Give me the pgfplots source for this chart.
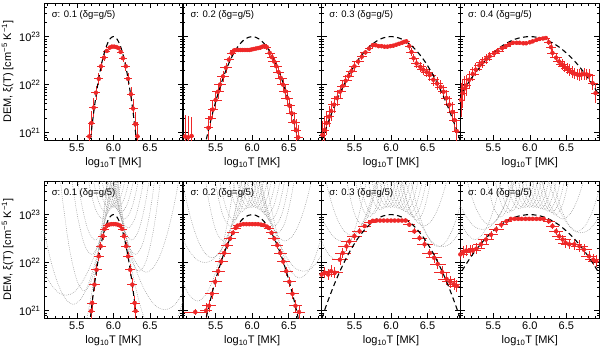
\documentclass[border=0pt]{standalone}
\usepackage{fontspec}
\setmainfont{Liberation Sans}
\usepackage{pgfplots}
\usepackage{pgfplotstable}
\pgfplotsset{compat=1.18}
\definecolor{demred}{RGB}{238,40,40}
\definecolor{locigray}{RGB}{145,145,145}

% ---------- data: log10 T, log10 DEM, x error, y error ----------
\pgfplotstableread{
x y ex ey
5.67 20.92 0.04 0.30
5.70 21.20 0.05 0.25
5.73 21.52 0.06 0.20
5.76 21.83 0.06 0.15
5.80 22.12 0.06 0.12
5.83 22.38 0.06 0.10
5.87 22.56 0.05 0.07
5.91 22.70 0.05 0.05
5.95 22.77 0.05 0.04
5.98 22.79 0.04 0.03
6.01 22.79 0.04 0.03
6.04 22.78 0.04 0.03
6.07 22.76 0.05 0.04
6.10 22.68 0.05 0.05
6.13 22.55 0.05 0.07
6.17 22.38 0.06 0.10
6.20 22.12 0.06 0.12
6.24 21.80 0.06 0.15
6.27 21.50 0.06 0.20
6.30 21.18 0.05 0.25
6.33 20.92 0.04 0.30
}\topA
\pgfplotstableread{
x y ex ey
5.08 20.92 0.04 0.45
5.12 20.90 0.05 0.45
5.17 20.93 0.04 0.40
5.40 21.10 0.06 0.25
5.43 21.30 0.07 0.22
5.46 21.48 0.07 0.20
5.50 21.68 0.08 0.18
5.53 21.85 0.08 0.15
5.56 22.00 0.08 0.13
5.60 22.17 0.08 0.12
5.64 22.35 0.08 0.10
5.68 22.52 0.07 0.08
5.72 22.66 0.06 0.06
5.75 22.71 0.05 0.05
5.78 22.72 0.05 0.04
5.81 22.72 0.05 0.04
5.84 22.72 0.05 0.04
5.87 22.72 0.05 0.04
5.90 22.72 0.05 0.04
5.93 22.72 0.05 0.04
5.96 22.72 0.05 0.04
5.99 22.73 0.05 0.04
6.02 22.74 0.05 0.04
6.05 22.75 0.05 0.04
6.08 22.76 0.05 0.04
6.11 22.77 0.05 0.04
6.14 22.79 0.05 0.04
6.17 22.80 0.05 0.05
6.20 22.78 0.06 0.06
6.24 22.66 0.07 0.08
6.27 22.57 0.07 0.09
6.30 22.48 0.08 0.10
6.33 22.38 0.08 0.11
6.36 22.26 0.08 0.12
6.39 22.14 0.08 0.13
6.42 22.00 0.08 0.14
6.45 21.86 0.08 0.15
6.48 21.72 0.08 0.16
6.51 21.56 0.08 0.17
6.54 21.40 0.08 0.19
6.57 21.22 0.08 0.21
6.60 21.05 0.07 0.23
6.63 20.90 0.06 0.25
}\topB
\pgfplotstableread{
x y ex ey
5.06 20.95 0.05 0.30
5.09 21.05 0.06 0.28
5.12 21.20 0.06 0.25
5.15 21.33 0.07 0.22
5.18 21.45 0.07 0.20
5.22 21.58 0.08 0.18
5.26 21.72 0.08 0.16
5.30 21.85 0.08 0.15
5.34 21.97 0.08 0.13
5.38 22.08 0.08 0.12
5.42 22.18 0.08 0.11
5.46 22.28 0.08 0.10
5.50 22.38 0.08 0.09
5.55 22.48 0.08 0.08
5.60 22.58 0.07 0.07
5.65 22.67 0.07 0.06
5.70 22.75 0.06 0.06
5.75 22.82 0.05 0.05
5.79 22.82 0.05 0.04
5.83 22.80 0.05 0.04
5.87 22.80 0.05 0.04
5.91 22.79 0.05 0.04
5.95 22.79 0.05 0.04
5.99 22.80 0.05 0.04
6.03 22.81 0.05 0.04
6.07 22.83 0.05 0.04
6.11 22.85 0.05 0.04
6.15 22.87 0.05 0.04
6.18 22.89 0.05 0.04
6.21 22.90 0.05 0.05
6.25 22.80 0.06 0.07
6.28 22.68 0.07 0.08
6.31 22.55 0.07 0.09
6.35 22.44 0.08 0.10
6.40 22.37 0.08 0.10
6.44 22.31 0.08 0.11
6.49 22.26 0.08 0.11
6.53 22.20 0.08 0.12
6.58 22.10 0.08 0.12
6.63 22.02 0.08 0.13
6.68 21.95 0.08 0.14
6.72 21.85 0.08 0.15
6.76 21.72 0.08 0.16
6.80 21.58 0.08 0.18
6.84 21.43 0.08 0.20
6.87 21.26 0.07 0.22
6.90 21.03 0.06 0.25
}\topC
\pgfplotstableread{
x y ex ey
5.06 21.68 0.05 0.35
5.08 21.82 0.06 0.30
5.11 21.92 0.07 0.25
5.13 21.98 0.07 0.22
5.17 22.10 0.08 0.18
5.22 22.22 0.08 0.15
5.26 22.31 0.08 0.13
5.31 22.40 0.08 0.12
5.35 22.46 0.08 0.11
5.40 22.53 0.08 0.10
5.45 22.59 0.08 0.09
5.51 22.65 0.08 0.08
5.56 22.70 0.08 0.07
5.62 22.76 0.07 0.06
5.67 22.80 0.07 0.05
5.72 22.84 0.06 0.05
5.77 22.87 0.06 0.04
5.82 22.87 0.06 0.04
5.86 22.87 0.06 0.04
5.91 22.86 0.06 0.04
5.95 22.86 0.06 0.04
6.00 22.88 0.06 0.04
6.04 22.90 0.06 0.04
6.09 22.93 0.06 0.04
6.13 22.95 0.06 0.04
6.18 22.96 0.06 0.04
6.22 22.97 0.06 0.05
6.26 22.88 0.06 0.06
6.29 22.78 0.07 0.08
6.31 22.66 0.07 0.09
6.36 22.56 0.08 0.10
6.40 22.48 0.08 0.10
6.44 22.42 0.08 0.11
6.47 22.37 0.08 0.11
6.51 22.33 0.08 0.11
6.54 22.30 0.08 0.12
6.58 22.26 0.08 0.12
6.61 22.23 0.08 0.12
6.65 22.21 0.08 0.12
6.68 22.20 0.08 0.12
6.71 22.21 0.08 0.12
6.74 22.22 0.08 0.12
6.78 22.21 0.08 0.12
6.81 22.19 0.08 0.13
6.86 22.03 0.07 0.15
6.90 21.82 0.06 0.20
}\topD
\pgfplotstableread{
x y ex ey
5.696 20.99 0.05 0.20
5.709 21.16 0.07 0.15
5.741 21.54 0.07 0.14
5.770 21.85 0.07 0.12
5.800 22.13 0.07 0.10
5.826 22.34 0.07 0.08
5.856 22.55 0.06 0.07
5.880 22.70 0.06 0.05
5.910 22.77 0.05 0.04
5.940 22.79 0.05 0.04
5.970 22.80 0.05 0.04
6.000 22.80 0.05 0.04
6.030 22.80 0.05 0.04
6.060 22.79 0.05 0.04
6.090 22.77 0.05 0.04
6.120 22.70 0.06 0.05
6.144 22.55 0.06 0.07
6.174 22.34 0.07 0.08
6.200 22.13 0.07 0.10
6.230 21.85 0.07 0.12
6.259 21.54 0.07 0.14
6.291 21.16 0.07 0.15
6.304 20.99 0.05 0.20
}\botA
\pgfplotstableread{
x y ex ey
5.22 20.97 0.16 0.06
5.37 21.00 0.08 0.15
5.408 21.10 0.09 0.12
5.449 21.35 0.09 0.11
5.492 21.60 0.09 0.10
5.534 21.82 0.09 0.09
5.575 22.02 0.09 0.08
5.616 22.20 0.09 0.08
5.657 22.36 0.08 0.07
5.697 22.50 0.08 0.06
5.735 22.62 0.08 0.05
5.773 22.72 0.07 0.05
5.80 22.77 0.06 0.04
5.84 22.79 0.06 0.04
5.88 22.80 0.06 0.04
5.92 22.80 0.06 0.04
5.96 22.80 0.06 0.04
6.00 22.80 0.06 0.04
6.04 22.80 0.06 0.04
6.08 22.80 0.06 0.04
6.12 22.79 0.06 0.04
6.16 22.78 0.06 0.04
6.20 22.75 0.06 0.04
6.227 22.72 0.07 0.05
6.265 22.62 0.08 0.05
6.303 22.50 0.08 0.06
6.343 22.36 0.08 0.07
6.384 22.20 0.09 0.08
6.425 22.02 0.09 0.08
6.466 21.82 0.09 0.09
6.508 21.60 0.09 0.10
6.551 21.35 0.09 0.11
6.592 21.10 0.09 0.12
6.64 20.97 0.08 0.15
}\botB
\pgfplotstableread{
x y ex ey
5.05 21.75 0.11 0.12
5.09 21.79 0.11 0.12
5.14 21.75 0.11 0.12
5.18 21.82 0.11 0.12
5.23 21.79 0.11 0.12
5.30 22.06 0.11 0.11
5.34 22.20 0.11 0.10
5.39 22.34 0.11 0.09
5.43 22.44 0.11 0.08
5.50 22.55 0.10 0.07
5.57 22.65 0.10 0.06
5.64 22.76 0.09 0.05
5.71 22.84 0.08 0.04
5.75 22.87 0.07 0.04
5.80 22.875 0.06 0.03
5.85 22.875 0.06 0.03
5.90 22.875 0.06 0.03
5.95 22.875 0.06 0.03
6.00 22.875 0.06 0.03
6.05 22.875 0.06 0.03
6.10 22.875 0.06 0.03
6.15 22.875 0.06 0.03
6.20 22.875 0.06 0.03
6.25 22.79 0.08 0.05
6.32 22.65 0.09 0.06
6.39 22.51 0.10 0.07
6.46 22.38 0.11 0.08
6.53 22.20 0.11 0.09
6.59 22.10 0.11 0.10
6.64 21.97 0.11 0.11
6.70 21.80 0.11 0.12
6.76 21.66 0.11 0.12
6.81 21.60 0.11 0.12
6.86 21.55 0.11 0.12
6.90 21.51 0.11 0.12
}\botC
\pgfplotstableread{
x y ex ey
5.05 22.17 0.11 0.12
5.09 22.22 0.11 0.12
5.13 22.25 0.11 0.12
5.18 22.25 0.11 0.12
5.22 22.25 0.11 0.12
5.27 22.29 0.11 0.11
5.33 22.38 0.11 0.10
5.40 22.48 0.11 0.09
5.47 22.58 0.10 0.08
5.54 22.69 0.10 0.07
5.61 22.79 0.09 0.06
5.68 22.86 0.08 0.05
5.74 22.91 0.07 0.04
5.79 22.91 0.07 0.04
5.84 22.91 0.07 0.04
5.89 22.91 0.07 0.04
5.94 22.91 0.07 0.04
5.99 22.91 0.07 0.04
6.04 22.91 0.07 0.04
6.09 22.91 0.07 0.04
6.14 22.91 0.07 0.04
6.19 22.91 0.07 0.04
6.26 22.86 0.08 0.05
6.31 22.76 0.09 0.06
6.36 22.65 0.10 0.07
6.40 22.55 0.10 0.08
6.45 22.48 0.11 0.09
6.49 22.41 0.11 0.10
6.54 22.38 0.11 0.10
6.61 22.38 0.11 0.11
6.68 22.34 0.11 0.12
6.74 22.27 0.11 0.12
6.81 22.13 0.11 0.12
6.87 22.06 0.11 0.12
6.91 22.03 0.11 0.12
}\botD

\pgfplotsset{
  dempanel/.style={
    scale only axis, width=138.8pt, height=137pt, anchor=south west,
    xmin=5.05, xmax=6.95, ymin=20.845, ymax=23.699,
    xtick={5.5,6.0,6.5}, xticklabels={5.5,6.0,6.5},
    minor xtick={5.1,5.2,5.3,5.4,5.6,5.7,5.8,5.9,6.1,6.2,6.3,6.4,6.6,6.7,6.8,6.9},
    ytick={21,22,23},
    minor ytick={20.903,20.954,21.301,21.477,21.602,21.699,21.778,21.845,21.903,21.954,22.301,22.477,22.602,22.699,22.778,22.845,22.903,22.954,23.301,23.477,23.602},
    tick align=inside, major tick length=5pt, minor tick length=2.5pt,
    every tick/.style={black, line width=0.5pt},
    axis line style={line width=0.6pt},
    tick label style={font=\fontsize{11}{12}\selectfont},
    label style={font=\fontsize{11}{12}\selectfont},
    xlabel={log\textsubscript{10}T [MK]},
    xlabel style={at={(axis description cs:0.5,0)}, anchor=center, yshift=-23pt},
    clip=true,
  },
  firstpanel/.style={
    yticklabels={10\textsuperscript{21},10\textsuperscript{22},10\textsuperscript{23}},
    ylabel={DEM, ξ(T) [cm\textsuperscript{−5} K\textsuperscript{−1}]},
    ylabel style={at={(axis description cs:-0.262,0.5)}, anchor=center},
  },
  otherpanel/.style={yticklabels={}},
  errs/.style={only marks, mark=none, demred,
    error bars/.cd, x dir=both, x explicit, y dir=both, y explicit,
    error mark=none, error bar style={demred, line width=0.65pt}},
  truedem/.style={black, line width=1.1pt, dash pattern=on 5pt off 3.5pt, smooth},
  loci/.style={locigray, line width=0.5pt, dash pattern=on 0.7pt off 1.2pt, smooth},
}
\newcommand{\ptitle}[1]{\node[anchor=west, inner sep=0pt, font=\fontsize{9.5}{10}\selectfont] at (rel axis cs:0.055,0.912) {#1};}

\begin{document}
\begin{tikzpicture}
\useasboundingbox (0,0) rectangle (600pt,349pt);

% ================= TOP ROW =================
\begin{axis}[dempanel, firstpanel, at={(44pt,209pt)}]
\addplot[errs] table[x=x, y=y, x error=ex, y error=ey] {\topA};
\addplot[truedem] coordinates {(5.65,20.340)(5.70,21.046)(5.75,21.643)(5.80,22.131)(5.85,22.511)(5.90,22.783)(5.95,22.946)(6.00,23.000)(6.05,22.946)(6.10,22.783)(6.15,22.511)(6.20,22.131)(6.25,21.643)(6.30,21.046)(6.35,20.340)};
\ptitle{σ: 0.1 (δg=g/5)}
\end{axis}

\begin{axis}[dempanel, otherpanel, at={(182.8pt,209pt)}]
\addplot[errs] table[x=x, y=y, x error=ex, y error=ey] {\topB};
\addplot[truedem] coordinates {(5.30,20.340)(5.40,21.046)(5.50,21.643)(5.60,22.131)(5.70,22.511)(5.80,22.783)(5.90,22.946)(6.00,23.000)(6.10,22.946)(6.20,22.783)(6.30,22.511)(6.40,22.131)(6.50,21.643)(6.60,21.046)(6.70,20.340)};
\ptitle{σ: 0.2 (δg=g/5)}
\end{axis}

\begin{axis}[dempanel, otherpanel, at={(321.6pt,209pt)}]
\addplot[errs] table[x=x, y=y, x error=ex, y error=ey] {\topC};
\addplot[truedem] coordinates {(4.95,20.340)(5.10,21.046)(5.25,21.643)(5.40,22.131)(5.55,22.511)(5.70,22.783)(5.85,22.946)(6.00,23.000)(6.15,22.946)(6.30,22.783)(6.45,22.511)(6.60,22.131)(6.75,21.643)(6.90,21.046)(7.05,20.340)};
\ptitle{σ: 0.3 (δg=g/5)}
\end{axis}

\begin{axis}[dempanel, otherpanel, at={(460.4pt,209pt)}]
\addplot[errs] table[x=x, y=y, x error=ex, y error=ey] {\topD};
\addplot[truedem] coordinates {(4.80,21.046)(5.00,21.643)(5.20,22.131)(5.40,22.511)(5.60,22.783)(5.80,22.946)(6.00,23.000)(6.20,22.946)(6.40,22.783)(6.60,22.511)(6.80,22.131)(7.00,21.643)(7.20,21.046)};
\ptitle{σ: 0.4 (δg=g/5)}
\end{axis}

% ================= BOTTOM ROW =================
\begin{axis}[dempanel, firstpanel, at={(44pt,31pt)}]
\addplot[loci] coordinates {(5.45,19.78)(5.55,20.26)(5.65,20.93)(5.75,21.80)(5.85,22.86)(5.95,24.12)};
\addplot[loci] coordinates {(4.85,24.60)(4.95,23.54)(5.05,22.67)(5.15,22.00)(5.25,21.52)(5.35,21.23)(5.45,21.13)(5.55,21.23)(5.65,21.52)(5.75,22.00)(5.85,22.67)(5.95,23.54)(6.05,24.60)};
\addplot[loci] coordinates {(5.2,24.88)(5.3,23.36)(5.4,22.28)(5.5,21.63)(5.6,21.41)(5.7,21.63)(5.8,22.28)(5.9,23.36)(6.0,24.88)};
\addplot[loci] coordinates {(5.45,24.42)(5.55,23.34)(5.65,22.69)(5.75,22.47)(5.85,22.69)(5.95,23.34)(6.05,24.42)};
\addplot[loci] coordinates {(5.55,24.86)(5.65,23.78)(5.75,23.13)(5.85,22.91)(5.95,23.13)(6.05,23.78)(6.15,24.86)};
\addplot[loci] coordinates {(5.65,25.07)(5.75,23.99)(5.85,23.34)(5.95,23.12)(6.05,23.34)(6.15,23.99)(6.25,25.07)};
\addplot[loci] coordinates {(5.75,25.07)(5.85,23.99)(5.95,23.34)(6.05,23.12)(6.15,23.34)(6.25,23.99)(6.35,25.07)};
\addplot[loci] coordinates {(5.8,24.99)(5.9,23.91)(6.0,23.26)(6.1,23.04)(6.2,23.26)(6.3,23.91)(6.4,24.99)};
\addplot[loci] coordinates {(5.9,24.67)(6.0,23.59)(6.1,22.94)(6.2,22.72)(6.3,22.94)(6.4,23.59)(6.5,24.67)};
\addplot[loci] coordinates {(5.9,25.64)(6.0,24.12)(6.1,23.04)(6.2,22.39)(6.3,22.17)(6.4,22.39)(6.5,23.04)(6.6,24.12)};
\addplot[loci] coordinates {(5.95,24.21)(6.05,23.34)(6.15,22.67)(6.25,22.19)(6.35,21.90)(6.45,21.80)(6.55,21.90)(6.65,22.19)(6.75,22.67)(6.85,23.34)(6.95,24.21)};
\addplot[loci] coordinates {(6.05,23.80)(6.15,22.74)(6.25,21.87)(6.35,21.20)(6.45,20.72)(6.55,20.43)(6.65,20.33)(6.75,20.43)(6.85,20.72)(6.95,21.20)(7.05,21.87)};
\addplot[loci] coordinates {(5.6,24.99)(5.7,23.91)(5.8,23.26)(5.9,23.04)(6.0,23.26)(6.1,23.91)(6.2,24.99)};
\addplot[loci] coordinates {(5.7,25.10)(5.8,24.02)(5.9,23.37)(6.0,23.15)(6.1,23.37)(6.2,24.02)(6.3,25.10)};
\addplot[loci] coordinates {(5.85,24.86)(5.95,23.78)(6.05,23.13)(6.15,22.91)(6.25,23.13)(6.35,23.78)(6.45,24.86)};
\addplot[loci] coordinates {(5.95,24.42)(6.05,23.34)(6.15,22.69)(6.25,22.47)(6.35,22.69)(6.45,23.34)(6.55,24.42)};
\addplot[loci] coordinates {(5.95,25.29)(6.05,23.77)(6.15,22.69)(6.25,22.04)(6.35,21.82)(6.45,22.04)(6.55,22.69)(6.65,23.77)(6.75,25.29)};
\addplot[loci] coordinates {(5.3,25.64)(5.4,24.12)(5.5,23.04)(5.6,22.39)(5.7,22.17)(5.8,22.39)(5.9,23.04)(6.0,24.12)(6.1,25.64)};
\addplot[loci] coordinates {(4.85,22.67)(4.95,22.19)(5.05,21.81)(5.15,21.54)(5.25,21.37)(5.35,21.32)(5.45,21.37)(5.55,21.54)(5.65,21.81)(5.75,22.19)(5.85,22.67)(5.95,23.27)(6.05,23.98)};
\addplot[loci] coordinates {(5.9,24.49)(6.0,23.68)(6.1,22.97)(6.2,22.38)(6.3,21.89)(6.4,21.51)(6.5,21.24)(6.6,21.07)(6.7,21.02)(6.8,21.07)(6.9,21.24)(7.0,21.51)(7.1,21.89)};
\addplot[errs] table[x=x, y=y, x error=ex, y error=ey] {\botA};
\addplot[truedem] coordinates {(5.65,20.340)(5.70,21.046)(5.75,21.643)(5.80,22.131)(5.85,22.511)(5.90,22.783)(5.95,22.946)(6.00,23.000)(6.05,22.946)(6.10,22.783)(6.15,22.511)(6.20,22.131)(6.25,21.643)(6.30,21.046)(6.35,20.340)};
\ptitle{σ: 0.1 (δg=g/5)}
\end{axis}

\begin{axis}[dempanel, otherpanel, at={(182.8pt,31pt)}]
\addplot[loci] coordinates {(4.85,22.74)(4.95,22.07)(5.05,21.59)(5.15,21.30)(5.25,21.20)(5.35,21.30)(5.45,21.59)(5.55,22.07)(5.65,22.74)(5.75,23.61)(5.85,24.67)};
\addplot[loci] coordinates {(4.95,24.51)(5.05,23.64)(5.15,22.97)(5.25,22.49)(5.35,22.20)(5.45,22.10)(5.55,22.20)(5.65,22.49)(5.75,22.97)(5.85,23.64)(5.95,24.51)};
\addplot[loci] coordinates {(5.3,24.41)(5.4,23.33)(5.5,22.68)(5.6,22.46)(5.7,22.68)(5.8,23.33)(5.9,24.41)};
\addplot[loci] coordinates {(5.45,24.83)(5.55,23.75)(5.65,23.10)(5.75,22.88)(5.85,23.10)(5.95,23.75)(6.05,24.83)};
\addplot[loci] coordinates {(5.55,25.00)(5.65,23.92)(5.75,23.27)(5.85,23.05)(5.95,23.27)(6.05,23.92)(6.15,25.00)};
\addplot[loci] coordinates {(5.65,25.09)(5.75,24.01)(5.85,23.36)(5.95,23.14)(6.05,23.36)(6.15,24.01)(6.25,25.09)};
\addplot[loci] coordinates {(5.75,25.09)(5.85,24.01)(5.95,23.36)(6.05,23.14)(6.15,23.36)(6.25,24.01)(6.35,25.09)};
\addplot[loci] coordinates {(5.8,25.06)(5.9,23.98)(6.0,23.33)(6.1,23.11)(6.2,23.33)(6.3,23.98)(6.4,25.06)};
\addplot[loci] coordinates {(5.9,24.93)(6.0,23.85)(6.1,23.20)(6.2,22.98)(6.3,23.20)(6.4,23.85)(6.5,24.93)};
\addplot[loci] coordinates {(6.0,24.71)(6.1,23.63)(6.2,22.98)(6.3,22.76)(6.4,22.98)(6.5,23.63)(6.6,24.71)};
\addplot[loci] coordinates {(5.95,24.86)(6.05,23.99)(6.15,23.32)(6.25,22.84)(6.35,22.55)(6.45,22.45)(6.55,22.55)(6.65,22.84)(6.75,23.32)(6.85,23.99)(6.95,24.86)};
\addplot[loci] coordinates {(6.15,24.09)(6.25,23.22)(6.35,22.55)(6.45,22.07)(6.55,21.78)(6.65,21.68)(6.75,21.78)(6.85,22.07)(6.95,22.55)(7.05,23.22)};
\addplot[loci] coordinates {(5.6,25.06)(5.7,23.98)(5.8,23.33)(5.9,23.11)(6.0,23.33)(6.1,23.98)(6.2,25.06)};
\addplot[loci] coordinates {(5.7,25.10)(5.8,24.02)(5.9,23.37)(6.0,23.15)(6.1,23.37)(6.2,24.02)(6.3,25.10)};
\addplot[loci] coordinates {(5.85,25.00)(5.95,23.92)(6.05,23.27)(6.15,23.05)(6.25,23.27)(6.35,23.92)(6.45,25.00)};
\addplot[loci] coordinates {(5.95,24.83)(6.05,23.75)(6.15,23.10)(6.25,22.88)(6.35,23.10)(6.45,23.75)(6.55,24.83)};
\addplot[loci] coordinates {(6.05,24.57)(6.15,23.49)(6.25,22.84)(6.35,22.62)(6.45,22.84)(6.55,23.49)(6.65,24.57)};
\addplot[loci] coordinates {(5.4,24.71)(5.5,23.63)(5.6,22.98)(5.7,22.76)(5.8,22.98)(5.9,23.63)(6.0,24.71)};
\addplot[loci] coordinates {(4.75,23.95)(4.85,23.35)(4.95,22.87)(5.05,22.49)(5.15,22.22)(5.25,22.05)(5.35,22.00)(5.45,22.05)(5.55,22.22)(5.65,22.49)(5.75,22.87)(5.85,23.35)(5.95,23.95)};
\addplot[loci] coordinates {(6.0,24.48)(6.1,23.77)(6.2,23.17)(6.3,22.69)(6.4,22.31)(6.5,22.04)(6.6,21.87)(6.7,21.82)(6.8,21.87)(6.9,22.04)(7.0,22.31)};
\addplot[errs] table[x=x, y=y, x error=ex, y error=ey] {\botB};
\addplot[truedem] coordinates {(5.30,20.340)(5.40,21.046)(5.50,21.643)(5.60,22.131)(5.70,22.511)(5.80,22.783)(5.90,22.946)(6.00,23.000)(6.10,22.946)(6.20,22.783)(6.30,22.511)(6.40,22.131)(6.50,21.643)(6.60,21.046)(6.70,20.340)};
\ptitle{σ: 0.2 (δg=g/5)}
\end{axis}

\begin{axis}[dempanel, otherpanel, at={(321.6pt,31pt)}]
\addplot[loci] coordinates {(4.75,24.47)(4.85,23.60)(4.95,22.93)(5.05,22.45)(5.15,22.16)(5.25,22.06)(5.35,22.16)(5.45,22.45)(5.55,22.93)(5.65,23.60)(5.75,24.47)};
\addplot[loci] coordinates {(5.05,24.11)(5.15,23.44)(5.25,22.96)(5.35,22.67)(5.45,22.57)(5.55,22.67)(5.65,22.96)(5.75,23.44)(5.85,24.11)};
\addplot[loci] coordinates {(5.3,24.75)(5.4,23.67)(5.5,23.02)(5.6,22.80)(5.7,23.02)(5.8,23.67)(5.9,24.75)};
\addplot[loci] coordinates {(5.45,24.96)(5.55,23.88)(5.65,23.23)(5.75,23.01)(5.85,23.23)(5.95,23.88)(6.05,24.96)};
\addplot[loci] coordinates {(5.55,25.05)(5.65,23.97)(5.75,23.32)(5.85,23.10)(5.95,23.32)(6.05,23.97)(6.15,25.05)};
\addplot[loci] coordinates {(5.65,25.10)(5.75,24.02)(5.85,23.37)(5.95,23.15)(6.05,23.37)(6.15,24.02)(6.25,25.10)};
\addplot[loci] coordinates {(5.75,25.10)(5.85,24.02)(5.95,23.37)(6.05,23.15)(6.15,23.37)(6.25,24.02)(6.35,25.10)};
\addplot[loci] coordinates {(5.8,25.08)(5.9,24.00)(6.0,23.35)(6.1,23.13)(6.2,23.35)(6.3,24.00)(6.4,25.08)};
\addplot[loci] coordinates {(5.9,25.01)(6.0,23.93)(6.1,23.28)(6.2,23.06)(6.3,23.28)(6.4,23.93)(6.5,25.01)};
\addplot[loci] coordinates {(6.0,24.90)(6.1,23.82)(6.2,23.17)(6.3,22.95)(6.4,23.17)(6.5,23.82)(6.6,24.90)};
\addplot[loci] coordinates {(6.05,24.30)(6.15,23.63)(6.25,23.15)(6.35,22.86)(6.45,22.76)(6.55,22.86)(6.65,23.15)(6.75,23.63)(6.85,24.30)};
\addplot[loci] coordinates {(6.15,24.74)(6.25,23.87)(6.35,23.20)(6.45,22.72)(6.55,22.43)(6.65,22.33)(6.75,22.43)(6.85,22.72)(6.95,23.20)(7.05,23.87)};
\addplot[loci] coordinates {(5.6,25.08)(5.7,24.00)(5.8,23.35)(5.9,23.13)(6.0,23.35)(6.1,24.00)(6.2,25.08)};
\addplot[loci] coordinates {(5.7,25.10)(5.8,24.02)(5.9,23.37)(6.0,23.15)(6.1,23.37)(6.2,24.02)(6.3,25.10)};
\addplot[loci] coordinates {(5.85,25.05)(5.95,23.97)(6.05,23.32)(6.15,23.10)(6.25,23.32)(6.35,23.97)(6.45,25.05)};
\addplot[loci] coordinates {(5.95,24.96)(6.05,23.88)(6.15,23.23)(6.25,23.01)(6.35,23.23)(6.45,23.88)(6.55,24.96)};
\addplot[loci] coordinates {(6.05,24.83)(6.15,23.75)(6.25,23.10)(6.35,22.88)(6.45,23.10)(6.55,23.75)(6.65,24.83)};
\addplot[loci] coordinates {(5.4,24.90)(5.5,23.82)(5.6,23.17)(5.7,22.95)(5.8,23.17)(5.9,23.82)(6.0,24.90)};
\addplot[loci] coordinates {(4.85,23.79)(4.95,23.31)(5.05,22.93)(5.15,22.66)(5.25,22.49)(5.35,22.44)(5.45,22.49)(5.55,22.66)(5.65,22.93)(5.75,23.31)(5.85,23.79)};
\addplot[loci] coordinates {(6.1,24.28)(6.2,23.69)(6.3,23.20)(6.4,22.82)(6.5,22.55)(6.6,22.38)(6.7,22.33)(6.8,22.38)(6.9,22.55)(7.0,22.82)};
\addplot[errs] table[x=x, y=y, x error=ex, y error=ey] {\botC};
\addplot[truedem] coordinates {(4.95,20.340)(5.10,21.046)(5.25,21.643)(5.40,22.131)(5.55,22.511)(5.70,22.783)(5.85,22.946)(6.00,23.000)(6.15,22.946)(6.30,22.783)(6.45,22.511)(6.60,22.131)(6.75,21.643)(6.90,21.046)(7.05,20.340)};
\ptitle{σ: 0.3 (δg=g/5)}
\end{axis}

\begin{axis}[dempanel, otherpanel, at={(460.4pt,31pt)}]
\addplot[loci] coordinates {(4.85,24.02)(4.95,23.35)(5.05,22.87)(5.15,22.58)(5.25,22.48)(5.35,22.58)(5.45,22.87)(5.55,23.35)(5.65,24.02)};
\addplot[loci] coordinates {(5.05,24.33)(5.15,23.66)(5.25,23.18)(5.35,22.89)(5.45,22.79)(5.55,22.89)(5.65,23.18)(5.75,23.66)(5.85,24.33)};
\addplot[loci] coordinates {(5.3,24.90)(5.4,23.82)(5.5,23.17)(5.6,22.95)(5.7,23.17)(5.8,23.82)(5.9,24.90)};
\addplot[loci] coordinates {(5.45,25.02)(5.55,23.94)(5.65,23.29)(5.75,23.07)(5.85,23.29)(5.95,23.94)(6.05,25.02)};
\addplot[loci] coordinates {(5.55,25.07)(5.65,23.99)(5.75,23.34)(5.85,23.12)(5.95,23.34)(6.05,23.99)(6.15,25.07)};
\addplot[loci] coordinates {(5.65,25.10)(5.75,24.02)(5.85,23.37)(5.95,23.15)(6.05,23.37)(6.15,24.02)(6.25,25.10)};
\addplot[loci] coordinates {(5.75,25.10)(5.85,24.02)(5.95,23.37)(6.05,23.15)(6.15,23.37)(6.25,24.02)(6.35,25.10)};
\addplot[loci] coordinates {(5.8,25.09)(5.9,24.01)(6.0,23.36)(6.1,23.14)(6.2,23.36)(6.3,24.01)(6.4,25.09)};
\addplot[loci] coordinates {(5.9,25.05)(6.0,23.97)(6.1,23.32)(6.2,23.10)(6.3,23.32)(6.4,23.97)(6.5,25.05)};
\addplot[loci] coordinates {(6.0,24.99)(6.1,23.91)(6.2,23.26)(6.3,23.04)(6.4,23.26)(6.5,23.91)(6.6,24.99)};
\addplot[loci] coordinates {(6.05,24.45)(6.15,23.78)(6.25,23.30)(6.35,23.01)(6.45,22.91)(6.55,23.01)(6.65,23.30)(6.75,23.78)(6.85,24.45)};
\addplot[loci] coordinates {(6.25,24.19)(6.35,23.52)(6.45,23.04)(6.55,22.75)(6.65,22.65)(6.75,22.75)(6.85,23.04)(6.95,23.52)(7.05,24.19)};
\addplot[loci] coordinates {(5.6,25.09)(5.7,24.01)(5.8,23.36)(5.9,23.14)(6.0,23.36)(6.1,24.01)(6.2,25.09)};
\addplot[loci] coordinates {(5.7,25.10)(5.8,24.02)(5.9,23.37)(6.0,23.15)(6.1,23.37)(6.2,24.02)(6.3,25.10)};
\addplot[loci] coordinates {(5.85,25.07)(5.95,23.99)(6.05,23.34)(6.15,23.12)(6.25,23.34)(6.35,23.99)(6.45,25.07)};
\addplot[loci] coordinates {(5.95,25.02)(6.05,23.94)(6.15,23.29)(6.25,23.07)(6.35,23.29)(6.45,23.94)(6.55,25.02)};
\addplot[loci] coordinates {(6.05,24.94)(6.15,23.86)(6.25,23.21)(6.35,22.99)(6.45,23.21)(6.55,23.86)(6.65,24.94)};
\addplot[loci] coordinates {(5.4,24.99)(5.5,23.91)(5.6,23.26)(5.7,23.04)(5.8,23.26)(5.9,23.91)(6.0,24.99)};
\addplot[loci] coordinates {(4.85,24.04)(4.95,23.56)(5.05,23.18)(5.15,22.91)(5.25,22.74)(5.35,22.69)(5.45,22.74)(5.55,22.91)(5.65,23.18)(5.75,23.56)(5.85,24.04)};
\addplot[loci] coordinates {(6.1,24.57)(6.2,23.98)(6.3,23.49)(6.4,23.11)(6.5,22.84)(6.6,22.67)(6.7,22.62)(6.8,22.67)(6.9,22.84)(7.0,23.11)};
\addplot[errs] table[x=x, y=y, x error=ex, y error=ey] {\botD};
\addplot[truedem] coordinates {(4.80,21.046)(5.00,21.643)(5.20,22.131)(5.40,22.511)(5.60,22.783)(5.80,22.946)(6.00,23.000)(6.20,22.946)(6.40,22.783)(6.60,22.511)(6.80,22.131)(7.00,21.643)(7.20,21.046)};
\ptitle{σ: 0.4 (δg=g/5)}
\end{axis}
\end{tikzpicture}
\end{document}
